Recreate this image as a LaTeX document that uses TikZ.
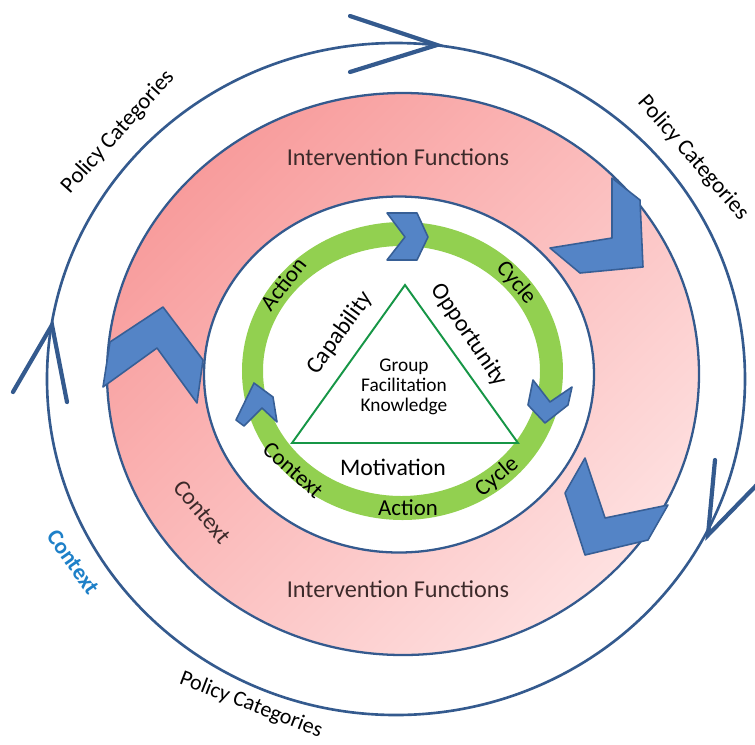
\documentclass[tikz,border=0pt]{standalone}
\usepackage{fontspec}
\setmainfont{Carlito}
\usepackage{tikz}
\definecolor{ringblue}{RGB}{52,90,142}
\definecolor{chevfill}{RGB}{84,132,198}
\definecolor{chevline}{RGB}{55,95,150}
\definecolor{bandgreen}{RGB}{146,208,80}
\definecolor{trigreen}{RGB}{22,150,70}
\definecolor{pinkA}{RGB}{248,156,156}
\definecolor{pinkB}{RGB}{254,224,224}
\definecolor{ctxblue}{RGB}{30,128,200}
\definecolor{darktext}{RGB}{60,42,42}
\tikzset{lbl/.style={font=\fontsize{13}{15}\selectfont,inner sep=1pt},
         biglbl/.style={font=\fontsize{13.5}{15}\selectfont,inner sep=1pt},
         ringline/.style={draw=ringblue,line width=1.3pt},
         chev/.style={fill=chevfill,draw=chevline,line width=0.9pt,line join=round},
         arm/.style={draw=ringblue,line width=2.4pt,line cap=round}}

\begin{document}
\begin{tikzpicture}
\useasboundingbox (-7.96,-7.36) rectangle (7.14,7.52);
% outer cycle with its three open heads
\draw[ringblue,line width=1.5pt] (-0.04,-0.06) ellipse (6.98 and 6.72);
\coordinate (tipT) at (0.78,6.62);
\coordinate (armTa) at (-0.96,7.20);
\coordinate (armTb) at (-0.96,6.08);
\coordinate (tipL) at (-6.92,1.02);
\coordinate (armLa) at (-7.70,-0.32);
\coordinate (armLb) at (-6.62,-0.52);
\coordinate (tipR) at (6.20,-3.18);
\coordinate (armRa) at (6.34,-1.68);
\coordinate (armRb) at (7.30,-2.05);
\draw[arm] (armTa) -- (tipT) -- (armTb);
\draw[arm] (armLa) -- (tipL) -- (armLb);
\draw[arm] (armRa) -- (tipR) -- (armRb);
% pink ring
\shade[top color=pinkA,bottom color=pinkB,shading angle=45,even odd rule]
  (0.10,0.04) ellipse (5.92 and 5.62) (0.02,0.03) ellipse (3.90 and 3.56);
\draw[ringline] (0.10,0.04) ellipse (5.92 and 5.62);
\draw[ringline,fill=white] (0.02,0.03) ellipse (3.90 and 3.56);
% green ring
\fill[bandgreen,even odd rule] (0.09,0.10) ellipse (3.21 and 2.98) (0.07,0.10) ellipse (2.77 and 2.50);
% chevrons
\draw[chev] (4.28,3.96) -- (4.84,3.52) -- (4.90,2.18) -- (3.64,2.06) -- (3.04,2.56) -- (4.28,2.76) -- cycle;
\draw[chev] (3.74,-1.64) -- (4.14,-2.84) -- (5.40,-2.58) -- (5.00,-3.28) -- (3.74,-3.58) -- (3.34,-2.34) -- cycle;
\draw[chev] (-5.76,0.68) -- (-4.70,1.38) -- (-3.90,0.32) -- (-4.02,-0.54) -- (-4.82,0.56) -- (-5.90,-0.22) -- cycle;
\draw[chev] (-0.22,3.26) -- (0.38,3.26) -- (0.60,2.78) -- (0.38,2.32) -- (-0.22,2.32) -- (0.14,2.78) -- cycle;
\draw[chev] (2.70,-0.08) -- (3.04,-0.52) -- (3.48,-0.22) -- (3.40,-0.58) -- (2.94,-0.94) -- (2.60,-0.58) -- cycle;
\draw[chev] (-3.24,-0.88) -- (-2.88,-0.14) -- (-2.50,-0.42) -- (-2.42,-0.92) -- (-2.72,-0.64) -- (-3.08,-1.00) -- cycle;
% triangle
\draw[trigreen,line width=1.1pt,line join=miter] (0.14,1.82) -- (-2.12,-1.34) -- (2.40,-1.34) -- cycle;
% labels
\node[lbl,rotate=48] (polTL) at (-5.60,4.88) {Policy Categories};
\node[lbl,rotate=-49] (polTR) at (5.90,4.36) {Policy Categories};
\node[lbl,rotate=-21,font=\fontsize{12.5}{14}\selectfont] (polB) at (-2.94,-6.58) {Policy Categories};
\node[lbl,rotate=-55,text=ctxblue,font=\fontsize{13}{15}\selectfont\bfseries] (ctxOut) at (-6.50,-3.72) {Context};
\node[lbl,text=darktext,font=\fontsize{13.8}{15}\selectfont] (ifTop) at (0,4.38) {Intervention Functions};
\node[lbl,text=darktext,font=\fontsize{13.8}{15}\selectfont] (ifBot) at (0,-4.26) {Intervention Functions};
\node[lbl,rotate=-50,text=darktext,font=\fontsize{13.5}{15}\selectfont] (ctxPink) at (-3.92,-2.72) {Context};
\node[lbl,rotate=52] (actTL) at (-2.30,1.84) {Action};
\node[lbl,rotate=-50] (cycTR) at (2.36,1.86) {Cycle};
\node[lbl,rotate=-42] (ctxG) at (-2.10,-1.88) {Context};
\node[lbl] (actB) at (0.20,-2.64) {Action};
\node[lbl,rotate=40] (cycBR) at (1.98,-2.02) {Cycle};
\node[biglbl,rotate=54] (capab) at (-1.16,0.86) {Capability};
\node[biglbl,rotate=-56] (opport) at (1.42,0.82) {Opportunity};
\node[biglbl] (motiv) at (-0.10,-1.82) {Motivation};
\node[align=center,font=\fontsize{11}{11.5}\selectfont] (core) at (0.12,-0.22) {Group\\Facilitation\\Knowledge};
\end{tikzpicture}
\end{document}
